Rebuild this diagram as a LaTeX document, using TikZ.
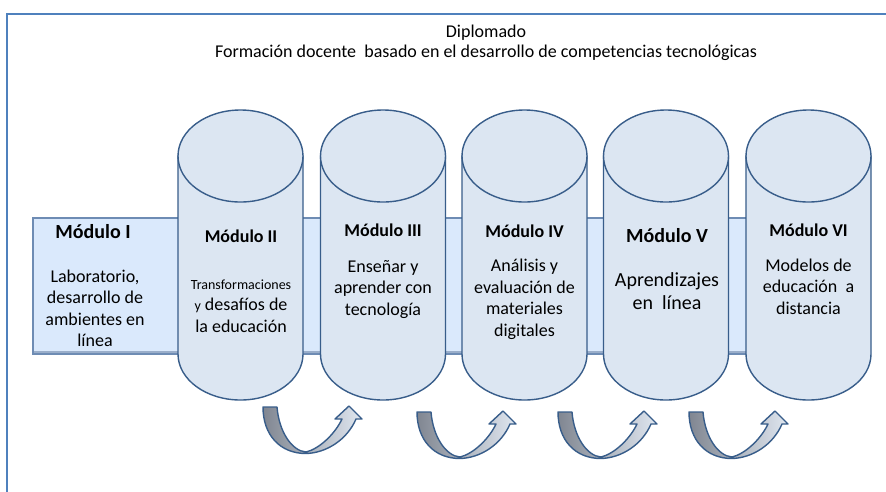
\documentclass[tikz,border=0pt]{standalone}
\usepackage{fontspec}
\setmainfont{Carlito}
\definecolor{cylfill}{RGB}{220,230,242}
\definecolor{cyledge}{RGB}{56,93,138}
\definecolor{bandfill}{RGB}{218,233,252}
\definecolor{bandedge}{RGB}{110,140,180}
\definecolor{framecol}{RGB}{79,129,189}
\definecolor{arrdark}{RGB}{128,134,145}
\definecolor{arrlight}{RGB}{224,231,240}
\newcommand{\mycyl}[1]{%
  \draw[cylstyle] (#1-62.5,156) -- (#1-62.5,354)
    .. controls (#1-62.5,379.4) and (#1-34.5,400) .. (#1,400)
    .. controls (#1+34.5,400) and (#1+62.5,379.4) .. (#1+62.5,354)
    -- (#1+62.5,156) -- cycle;
  \draw[cylstyle] (#1,156) ellipse [x radius=62.5, y radius=46];
}
\newcommand{\myuturn}[2]{%
  \begin{scope}[shift={(#1,#2)}]
    \draw[uarrow] (0,0) -- (14,0)
      .. controls (16,25) and (29,44) .. (43,45)
      .. controls (56,42) and (72,27) .. (79,12)
      -- (72,12) -- (86,-1) -- (99,12) -- (93,12)
      .. controls (84,33) and (63,46) .. (43,46.5)
      .. controls (17,46.5) and (0,28) .. (0,0) -- cycle;
  \end{scope}
}
\begin{document}
\begin{tikzpicture}[x=1pt,y=-1pt,
  frame/.style={draw=framecol, line width=2.2pt},
  band/.style={draw=bandedge, fill=bandfill, line width=1.5pt},
  cylstyle/.style={draw=cyledge, fill=cylfill, line width=1.4pt},
  uarrow/.style={draw=cyledge, line width=1.4pt, left color=arrdark, right color=arrlight, line join=round},
  hd/.style={inner sep=0pt, anchor=base, font=\bfseries\fontsize{18}{21.5}\selectfont},
  hdbig/.style={inner sep=0pt, anchor=base, font=\bfseries\fontsize{20}{24}\selectfont},
  bd/.style={inner sep=0pt, align=center, font=\fontsize{18}{21.5}\selectfont},
  bdbig/.style={inner sep=0pt, align=center, font=\fontsize{20}{23}\selectfont},
  ttl/.style={inner sep=0pt, align=center, font=\fontsize{18}{20.5}\selectfont}]
\useasboundingbox (0,0) rectangle (886,491);
\clip (0,0) rectangle (886,491);
\fill[white] (0,0) rectangle (886,491);
\draw[frame] (7,14) rectangle (920,520);

\node[ttl] (title) at (486,43) {Diplomado\\Formación docente\ \ basado en el desarrollo de competencias tecnológicas};

\draw[band] (33,218) rectangle (850,354);
\draw[bandedge!70, line width=2pt] (34,352) -- (849,352);

\mycyl{240.5}
\mycyl{383}
\mycyl{524.5}
\mycyl{666}
\mycyl{808.5}

\node[hdbig] (h1) at (93,238) {Módulo I};
\node[bd] (t1) at (95,308.5) {Laboratorio,\\desarrollo de\\ambientes en\\línea};

\node[hd] (h2) at (241,242) {Módulo II};
\node[bd] (t2) at (241,306) {{\fontsize{14}{17}\selectfont Transformaciones}\\{\fontsize{14}{17}\selectfont y} desafíos de\\la educación};

\node[hd] (h3) at (383,236) {Módulo III};
\node[bd] (t3) at (383,289.5) {Enseñar y\\aprender con\\tecnología};

\node[hd] (h4) at (524.5,237) {Módulo IV};
\node[bd] (t4) at (524.5,299.5) {Análisis y\\evaluación de\\materiales\\digitales};

\node[hdbig] (h5) at (667,242) {Módulo V};
\node[bdbig] (t5) at (667,291.5) {Aprendizajes\\en\ \ línea};

\node[hd] (h6) at (808.5,236) {Módulo VI};
\node[bd] (t6) at (808.5,286.5) {Modelos de\\educación\ \ a\\distancia};

\myuturn{263}{407}
\myuturn{417}{412}
\myuturn{558}{412}
\myuturn{689}{412}
\end{tikzpicture}
\end{document}
